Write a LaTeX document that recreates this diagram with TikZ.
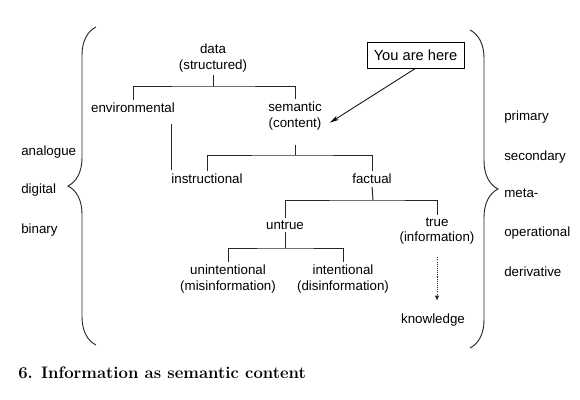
\documentclass[tikz,border=0pt]{standalone}
\usepackage{fontspec}
\setsansfont{Liberation Sans}
\usetikzlibrary{arrows.meta,calc,decorations.pathreplacing}
\tikzset{>=Stealth,line width=.75pt,
  every node/.style={font=\sffamily\fontsize{10}{11.5}\selectfont},
  term/.style={align=center,inner sep=2pt},
  side/.style={anchor=west,inner sep=0pt},
  fork/.style={draw=black!85,line width=.75pt},
  herebox/.style={draw,line width=.6pt,inner xsep=5pt,minimum height=19.5pt,
    font=\sffamily\fontsize{11}{13}\selectfont},
  curly/.style={draw=black!85,decorate,decoration={brace,amplitude=21pt},line width=.7pt}}

\begin{document}
\begin{tikzpicture}[x=.75pt,y=-.75pt]
\useasboundingbox(0,0)rectangle(580,399);
% tree of terms
\node[term](data)at(213,58){data\\(structured)};
\node[term](env)at(133,108){environmental};
\node[term](sem)at(295,116){semantic\\(content)};
\node[term](instr)at(207,179){instructional};
\node[term](fact)at(372,179){factual};
\node[term](untrue)at(285,225){untrue};
\node[term](true)at(437,231){true\\(information)};
\node[term](unint)at(228,279){unintentional\\(misinformation)};
\node[term](int)at(343,279){intentional\\(disinformation)};
\node[term](know)at(433,320){knowledge};
\node[herebox](here)at(415.5,55){You are here};
% forks
\coordinate(j1)at(213,87);\coordinate(j2)at(295,155);
\coordinate(j3)at(373,200);\coordinate(j4)at(285,248);
\draw[fork](data.south)--(j1);\draw[fork](env.north)|-(j1)-|(sem.north);
\draw[fork,shorten <=9pt](sem.south)--(j2);\draw[fork](instr.north)|-(j2)-|(fact.north);
\draw[fork](fact.south)--(j3);\draw[fork](untrue.north)|-(j3)-|(true.north);
\draw[fork](untrue.south)--(j4);\draw[fork](unint.north)|-(j4)-|(int.north);
\coordinate(ie)at([xshift=2pt]instr.north west);
\draw[fork,shorten <=1pt,shorten >=6pt](ie)--(ie|-env.south);
\draw[fork,dash pattern=on .8pt off .8pt,-{Latex[length=4pt,width=3.5pt]},shorten <=7.5pt,shorten >=7.5pt](true.south)--(true.south|-know.north);
\draw[line width=.6pt,-{Stealth[length=7pt,width=3.5pt]}](here.south)--([xshift=4pt,yshift=-5pt]sem.east);
% side lists
\draw[curly](96,345)--(96,27);
\draw[curly](470,30)--(470,348);
\foreach \t/\y [count=\i] in {analogue/152,digital/190,binary/230}{\node[side](l\i)at(21,\y){\t};}
\foreach \t/\y [count=\i] in {primary/117,secondary/157,meta-/193,operational/233,derivative/272}{\node[side](r\i)at(504,\y){\t};}
\node[anchor=west,inner sep=0pt,font=\rmfamily\bfseries\fontsize{12.5}{14}\selectfont](cap)at(18,373){6.\enspace Information as semantic content};
\end{tikzpicture}
\end{document}
